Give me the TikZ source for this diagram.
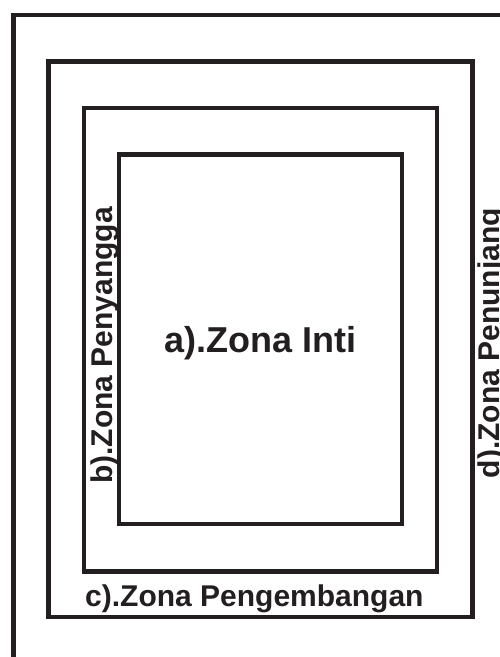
\documentclass[tikz,border=0pt]{standalone}
\usepackage{fontspec}
\setmainfont{Liberation Sans}
\definecolor{ink}{HTML}{231F20}
\begin{document}
\begin{tikzpicture}[x=1pt,y=-1pt,
  frame/.style={draw=ink,line width=4.4pt,line cap=rect},
  zone/.style={text=ink,inner sep=0pt,font=\bfseries\fontsize{30}{36}\selectfont},
  core/.style={text=ink,inner sep=0pt,font=\bfseries\fontsize{36}{42}\selectfont}]
  \useasboundingbox (0,0) rectangle (499,657);
  % outer open frame (d)
  \coordinate (dTL) at (13.4,14.7);
  \coordinate (dR) at (505,14.7);
  \coordinate (dB) at (13.4,665);
  \draw[frame,line cap=butt] (dR) -- (dTL) -- (dB);
  % development zone (c)
  \draw[frame] (48.3,61.3) rectangle (472.5,617.2);
  % buffer zone (b)
  \draw[frame] (83.7,107.7) rectangle (437.2,571.3);
  % core zone (a)
  \draw[frame] (119,154.6) rectangle (401.7,524);
  % labels
  \node[core,anchor=base] (la) at (260.4,352) {a).Zona Inti};
  \node[zone,rotate=90,anchor=base east] (lb) at (112,207) {b).Zona Penyangga};
  \node[zone,anchor=base west] (lc) at (85,606) {c).Zona Pengembangan};
  \node[zone,rotate=90,anchor=base east] (ld) at (499.5,208) {d).Zona Penunjang};
\end{tikzpicture}
\end{document}
